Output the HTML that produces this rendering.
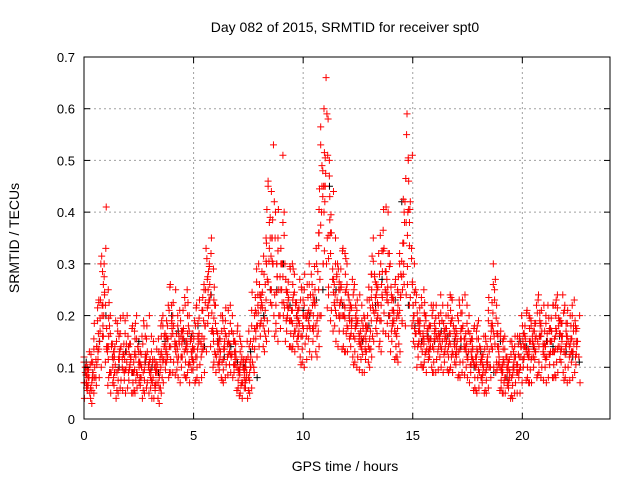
<!DOCTYPE html>
<html><head><meta charset="utf-8"><style>
body{margin:0;background:#fff;width:640px;height:480px;overflow:hidden}
svg{font-family:"Liberation Sans",sans-serif}
</style></head><body>
<svg id="chart" width="640" height="480" xmlns="http://www.w3.org/2000/svg">
<rect width="640" height="480" fill="#fff"/>
<text x="345" y="32" font-size="14" text-anchor="middle">Day 082 of 2015, SRMTID for receiver spt0</text>
<text transform="translate(19,238) rotate(-90)" font-size="14" text-anchor="middle">SRMTID / TECUs</text>
<text x="345" y="471" font-size="14" text-anchor="middle">GPS time / hours</text>
<g id="grid"></g>
<g id="marks"></g>
<g id="axes"></g>
</svg>
<script>
const xTicks=[0,5,10,15,20];
const yTicks=[0,0.1,0.2,0.3,0.4,0.5,0.6,0.7];
const yTickLabels=["0","0.1","0.2","0.3","0.4","0.5","0.6","0.7"];
const timeStep=0.15;
const redHi=[.12,.13,.11,.14,.23,.3,.41,.25,.2,.19,.17,.2,.19,.2,.18,.17,.2,.16,.18,.2,.16,.15,.13,.18,.2,.22,.26,.25,.2,.21,.22,.25,.2,.19,.22,.21,.25,.33,.35,.29,.22,.2,.19,.21,.22,.2,.18,.16,.14,.15,.14,.2,.29,.3,.28,.35,.46,.53,.4,.3,.51,.3,.29,.3,.28,.27,.25,.26,.3,.28,.3,.36,.53,.66,.58,.44,.35,.3,.33,.32,.3,.27,.26,.24,.22,.2,.23,.28,.35,.32,.3,.41,.4,.3,.27,.25,.3,.42,.59,.51,.3,.24,.22,.25,.2,.22,.22,.2,.24,.22,.2,.24,.23,.2,.22,.24,.22,.2,.18,.17,.19,.16,.15,.17,.3,.27,.17,.15,.16,.15,.14,.16,.16,.2,.21,.2,.19,.22,.24,.22,.2,.22,.22,.22,.24,.24,.22,.2,.22,.23,.2];
const redQ3=[.09,.1,.08,.1,.17,.22,.3,.18,.14,.13,.12,.14,.13,.14,.12,.12,.14,.11,.12,.13,.11,.1,.09,.12,.14,.16,.19,.18,.15,.16,.17,.18,.15,.14,.16,.15,.18,.27,.3,.22,.17,.15,.14,.16,.17,.15,.13,.11,.1,.1,.1,.14,.22,.24,.22,.27,.33,.44,.3,.25,.4,.25,.23,.24,.22,.21,.2,.2,.24,.22,.23,.27,.45,.6,.5,.36,.28,.25,.26,.25,.24,.22,.2,.19,.18,.16,.18,.22,.28,.26,.24,.33,.32,.24,.21,.2,.24,.34,.5,.42,.25,.19,.18,.2,.16,.18,.17,.16,.19,.17,.16,.19,.18,.16,.17,.18,.17,.15,.14,.13,.14,.12,.11,.13,.25,.22,.13,.11,.12,.11,.1,.12,.12,.15,.16,.15,.15,.17,.19,.17,.15,.17,.17,.17,.18,.19,.17,.15,.17,.18,.15];
const redQ1=[.07,.08,.06,.08,.13,.16,.22,.13,.1,.09,.09,.1,.09,.1,.09,.09,.1,.08,.09,.1,.08,.07,.07,.09,.11,.12,.14,.14,.12,.12,.13,.14,.12,.11,.12,.12,.14,.2,.24,.17,.13,.12,.11,.12,.13,.12,.1,.09,.08,.08,.08,.1,.17,.19,.18,.21,.25,.3,.24,.2,.3,.2,.19,.19,.18,.17,.16,.16,.19,.18,.18,.2,.3,.45,.35,.27,.22,.2,.2,.2,.19,.18,.16,.15,.14,.13,.14,.17,.21,.2,.19,.25,.24,.19,.17,.16,.19,.26,.38,.33,.2,.15,.14,.16,.13,.14,.14,.13,.15,.14,.13,.15,.14,.13,.13,.14,.13,.12,.11,.1,.11,.09,.09,.1,.18,.16,.1,.09,.09,.08,.08,.09,.09,.12,.13,.12,.12,.13,.15,.13,.12,.13,.13,.13,.14,.15,.13,.12,.13,.14,.12];
const redLo=[.04,.05,.03,.05,.08,.1,.14,.08,.05,.04,.05,.06,.05,.06,.05,.05,.06,.04,.05,.06,.04,.04,.03,.05,.07,.08,.09,.09,.08,.07,.08,.09,.07,.07,.08,.07,.09,.13,.17,.11,.09,.08,.07,.08,.09,.08,.06,.05,.04,.04,.05,.06,.12,.14,.13,.15,.17,.2,.17,.15,.2,.15,.14,.14,.13,.12,.11,.1,.13,.12,.12,.14,.2,.3,.24,.19,.15,.14,.14,.13,.13,.12,.11,.1,.09,.09,.1,.12,.15,.14,.13,.17,.16,.13,.12,.11,.13,.18,.26,.22,.14,.1,.1,.11,.09,.1,.09,.09,.1,.09,.09,.1,.09,.08,.08,.09,.08,.07,.06,.05,.06,.05,.05,.06,.1,.09,.06,.05,.05,.04,.04,.05,.05,.07,.08,.07,.07,.08,.09,.08,.07,.08,.08,.08,.09,.09,.08,.07,.08,.09,.07];
const blackStep=0.3;
const blackVals=[.11,.09,.15,.2,.12,.1,.13,.09,.15,.11,.1,.09,.15,.2,.17,.15,.16,.18,.14,.24,.15,.12,.14,.11,.1,.13,.08,.2,.25,.25,.3,.22,.2,.21,.2,.23,.25,.45,.25,.22,.2,.18,.15,.18,.22,.27,.2,.23,.42,.22,.18,.15,.16,.15,.17,.16,.15,.14,.12,.1,.13,.11,.09,.15,.08,.1,.15,.14,.14,.16,.15,.14,.16,.13,.12,.11];
const X0=84,X1=610,Y0=419,Y1=57,XMAX=24,YMAX=0.7;
const xs=v=>X0+(X1-X0)*v/XMAX, ys=v=>Y0-(Y0-Y1)*v/YMAX;
const NS='http://www.w3.org/2000/svg';
function mk(tag,attrs,parent){const e=document.createElementNS(NS,tag);for(const k in attrs)e.setAttribute(k,attrs[k]);parent.appendChild(e);return e;}
const grid=document.getElementById('grid'),marks=document.getElementById('marks'),axes=document.getElementById('axes');
xTicks.forEach(t=>{if(t>0){const l=mk('line',{x1:xs(t),x2:xs(t),y1:Y1,y2:Y0,stroke:'#a0a0a0','stroke-dasharray':'2,3'},grid);

}
mk('line',{x1:xs(t),x2:xs(t),y1:Y0,y2:Y0-6,stroke:'#000'},axes);
mk('line',{x1:xs(t),x2:xs(t),y1:Y1,y2:Y1+6,stroke:'#000'},axes);
const tx=mk('text',{x:xs(t),y:Y0+21,'font-size':13,'text-anchor':'middle'},axes);tx.textContent=String(t);

});
yTicks.forEach((t,i)=>{if(t>0&&t<YMAX){const l=mk('line',{x1:X0,x2:X1,y1:ys(t),y2:ys(t),stroke:'#a0a0a0','stroke-dasharray':'2,3'},grid);

}
mk('line',{x1:X0,x2:X0+6,y1:ys(t),y2:ys(t),stroke:'#000'},axes);
mk('line',{x1:X1,x2:X1-6,y1:ys(t),y2:ys(t),stroke:'#000'},axes);
const tx=mk('text',{x:X0-9,y:ys(t)+5,'font-size':13,'text-anchor':'end'},axes);tx.textContent=yTickLabels[i];

});
const fr=mk('rect',{x:X0,y:Y1,width:X1-X0,height:Y0-Y1,fill:'none',stroke:'#000'},axes);


function plus(x,y,c){const p=mk('path',{d:`M${x-3.5},${y}h7M${x},${y-3.5}v7`,stroke:c,'stroke-width':1,fill:'none'},marks);

}
blackVals.forEach((v,i)=>plus(xs(i*blackStep+0.1),ys(v),'#000'));
const redSets=[redHi,redQ3,redQ1,redLo];
redSets.forEach((arr,k)=>arr.forEach((v,i)=>{
 const off=((k*3+i*5)%8)*0.019;
 plus(xs(i*timeStep+off),ys(v),'#ff0000');
 const other=redSets[(k+1+i)%4];
 if(i+1<other.length){
  const off2=((k*7+i*3)%8)*0.019;
  plus(xs(i*timeStep+off2),ys((v+other[i+1])/2),'#ff0000');
  const third=redSets[(k+2+i)%4];
  const off3=((k*5+i*7+3)%8)*0.019;
  plus(xs(i*timeStep+off3),ys((v+third[i+1])/2),'#ff0000');
 }
}));
</script>
</body></html>
